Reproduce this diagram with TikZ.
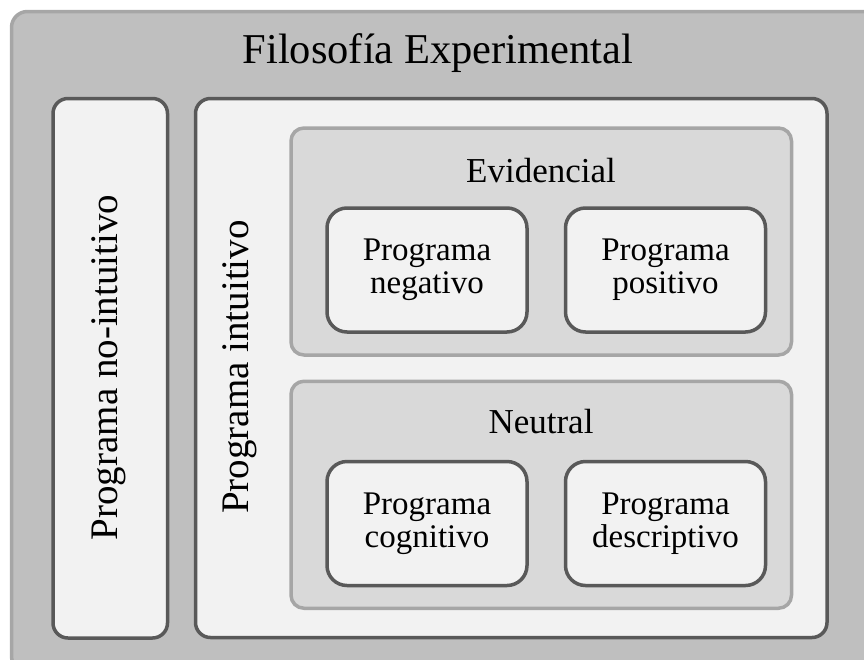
\documentclass[tikz,border=0pt]{standalone}
\usepackage{fontspec}
\setmainfont{Liberation Serif}
\definecolor{framefill}{HTML}{BFBFBF}
\definecolor{lightline}{HTML}{A6A6A6}
\definecolor{darkline}{HTML}{595959}
\definecolor{paper}{HTML}{F2F2F2}
\definecolor{groupfill}{HTML}{D9D9D9}
\begin{document}
\begin{tikzpicture}[x=1pt,y=-1pt,
    framebox/.style={draw=lightline, fill=framefill, line width=3.5pt, rounded corners=16pt, inner sep=0pt},
    panel/.style={draw=darkline, fill=paper, line width=3.5pt, rounded corners=15pt, inner sep=0pt},
    groupbox/.style={draw=lightline, fill=groupfill, line width=3.5pt, rounded corners=13pt, inner sep=0pt,
        minimum width=500.5pt, minimum height=227pt},
    leafbox/.style={draw=darkline, fill=paper, line width=3.5pt, rounded corners=20pt, inner sep=0pt,
        minimum width=200pt, minimum height=124pt, align=center,
        font=\fontsize{33}{33}\selectfont},
    vlabel/.style={rotate=90, anchor=base, inner sep=0pt, font=\fontsize{39}{39}\selectfont},
    grouplabel/.style={anchor=base, inner sep=0pt, font=\fontsize{35}{35}\selectfont}]
    \clip (0,0) rectangle (864,659);
    %% Frame
    \node[framebox, minimum width=868.5pt, minimum height=660.5pt] (frame) at (445.75,341.75) {};
    \node[anchor=base, inner sep=0pt, font=\fontsize{42.5}{42.5}\selectfont] (title) at (438,63) {Filosofía Experimental};
    %% Programs
    \node[panel, minimum width=114.5pt, minimum height=539.5pt] (nonint) at (110.25,368.25) {};
    \node[panel, minimum width=631.5pt, minimum height=539pt] (intu) at (511.25,368) {};
    \node[vlabel] (nonintlabel) at (117,367.5) {Programa no-intuitivo};
    \node[vlabel] (intulabel) at (248,367) {Programa intuitivo};
    %% Evidencial
    \node[groupbox] (evid) at (541.25,241.5) {};
    \node[grouplabel] (evidlabel) at (541,182) {Evidencial};
    \node[leafbox] (neg) at (427,270) {Programa\\negativo};
    \node[leafbox] (pos) at (665.5,270) {Programa\\positivo};
    %% Neutral
    \node[groupbox] (neut) at (541.25,494.75) {};
    \node[grouplabel] (neutlabel) at (541,433) {Neutral};
    \node[leafbox] (cog) at (427,523.5) {Programa\\cognitivo};
    \node[leafbox] (desc) at (665.5,523.5) {Programa\\descriptivo};
\end{tikzpicture}
\end{document}
